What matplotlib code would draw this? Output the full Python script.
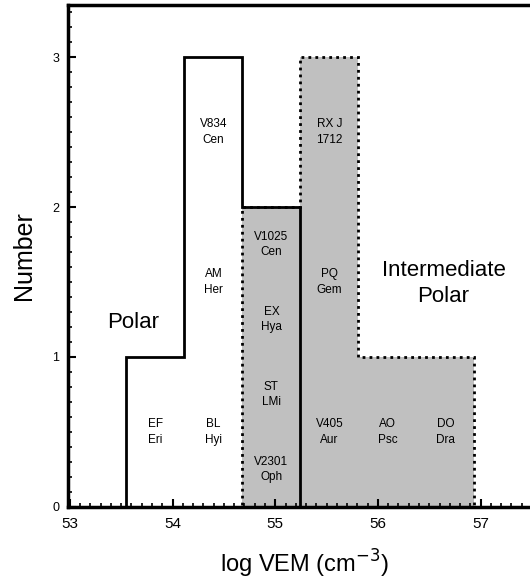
import numpy as np
import matplotlib
matplotlib.use("Agg")
import matplotlib.pyplot as plt
from matplotlib.ticker import MultipleLocator

plt.rcParams["font.family"] = ["Liberation Sans", "DejaVu Sans"]

# histogram bins in log VEM, counts of polars and intermediate polars
bin_edges = [53.55, 54.115, 54.68, 55.245, 55.81, 56.375, 56.94]
polar_counts = [1, 3, 2, 0, 0, 0]
ip_counts = [0, 0, 2, 3, 1, 1]

# object names per bin, listed from bottom to top
bin_names = [
    ["EF\nEri"],
    ["BL\nHyi", "AM\nHer", "V834\nCen"],
    ["V2301\nOph", "ST\nLMi", "EX\nHya", "V1025\nCen"],
    ["V405\nAur", "PQ\nGem", "RX J\n1712"],
    ["AO\nPsc"],
    ["DO\nDra"],
]

x_ticks = [53, 54, 55, 56, 57]
y_ticks = [0, 1, 2, 3]

fig = plt.figure(figsize=(5.3, 5.84), dpi=100)
ax = fig.add_axes([0.128, 0.132, 0.895, 0.860])

edges = np.array(bin_edges)
centers = (edges[:-1] + edges[1:]) / 2

# intermediate polars: grey filled, dotted outline
ax.stairs(ip_counts, edges, fill=True, color="#c0c0c0", zorder=1)
ax.stairs(ip_counts, edges, color="black", linestyle=(0, (1, 1.5)),
          linewidth=2, zorder=2)
# polars: plain solid outline
ax.stairs(polar_counts, edges, color="black", linewidth=2, zorder=3)

# names stacked inside each bin
for cx, names in zip(centers, bin_names):
    step = 1.0 if len(names) < 4 else 0.5
    for k, name in enumerate(names):
        ax.text(cx, (k + 0.5) * step, name, ha="center", va="center",
                fontsize=8.5, linespacing=1.4, zorder=4)

ax.text(53.62, 1.23, "Polar", ha="center", va="center", fontsize=16)
ax.text(56.64, 1.49, "Intermediate\nPolar", ha="center", va="center",
        fontsize=16, linespacing=1.3)

ax.set_xlim(52.98, 57.6)
ax.set_ylim(0, 3.35)
ax.set_xticks(x_ticks)
ax.set_yticks(y_ticks)
ax.xaxis.set_minor_locator(MultipleLocator(0.1))
ax.yaxis.set_minor_locator(MultipleLocator(0.1))
ax.tick_params(which="both", direction="in", top=False, right=False)
ax.tick_params(which="major", length=6, width=1.5)
ax.tick_params(which="minor", length=3, width=1.2)
ax.tick_params(axis="x", which="major", labelsize=11, pad=7)
ax.tick_params(axis="y", which="major", labelsize=9, pad=6)

for side in ["left", "bottom", "top"]:
    ax.spines[side].set_linewidth(2.5)
ax.spines["right"].set_visible(False)

ax.set_xlabel("log VEM (cm$^{-3}$)", fontsize=17, labelpad=12)
ax.set_ylabel("Number", fontsize=18, labelpad=12)

fig.savefig("out.png", dpi=100)
